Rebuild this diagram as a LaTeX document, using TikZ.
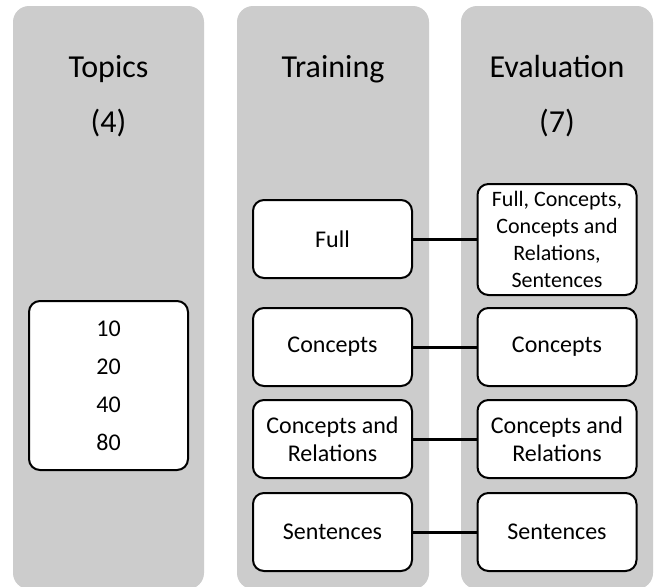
\documentclass[tikz,border=0pt]{standalone}
\usepackage{fontspec}
\setmainfont{Carlito}
\definecolor{panelgray}{HTML}{CCCCCC}
\tikzset{
  panel/.style={fill=panelgray, draw=none, rounded corners=16pt},
  heading/.style={anchor=base, font=\fontsize{32}{38}\selectfont},
  itembox/.style={draw=black, line width=2pt, fill=white, rounded corners=11pt,
    minimum width=159pt, minimum height=78pt, align=center, inner sep=2pt,
    font=\fontsize{24}{28}\selectfont},
  link/.style={line width=3pt, draw=black}
}
\begin{document}
\begin{tikzpicture}[x=1pt, y=-1pt]
\useasboundingbox (0,0) rectangle (657,587);
\fill[white] (0,0) rectangle (657,587);

% grey columns
\path[panel] (13,6) rectangle (204,589);
\path[panel] (237,6) rectangle (429,589);
\path[panel] (461,6) rectangle (653,589);

% column headings
\node[heading] (htop) at (108.5,77) {Topics};
\node[heading] (htopn) at (108.5,132) {(4)};
\node[heading] (htrain) at (333,77) {Training};
\node[heading] (heval) at (557,77) {Evaluation};
\node[heading] (hevaln) at (557,132) {(7)};

% topics
\node[itembox, minimum height=169pt, font=\fontsize{24}{38}\selectfont] (topics) at (108.5,385.5) {10\\20\\40\\80};

% training settings
\node[itembox] (tfull) at (332.5,239) {Full};
\node[itembox] (tcon) at (332.5,347) {Concepts};
\node[itembox] (tcr) at (332.5,439) {Concepts and\\Relations};
\node[itembox] (tsen) at (332.5,532) {Sentences};

% evaluation settings
\node[itembox, minimum height=111pt, font=\fontsize{22}{27}\selectfont] (efull) at (557,239.5) {Full, Concepts,\\Concepts and\\Relations,\\Sentences};
\node[itembox] (econ) at (557,347) {Concepts};
\node[itembox] (ecr) at (557,439) {Concepts and\\Relations};
\node[itembox] (esen) at (557,532) {Sentences};

% links between training and evaluation
\draw[link] (tfull.east) -- (tfull.east -| efull.west);
\draw[link] (tcon.east) -- (econ.west);
\draw[link] (tcr.east) -- (ecr.west);
\draw[link] (tsen.east) -- (esen.west);
\end{tikzpicture}
\end{document}
